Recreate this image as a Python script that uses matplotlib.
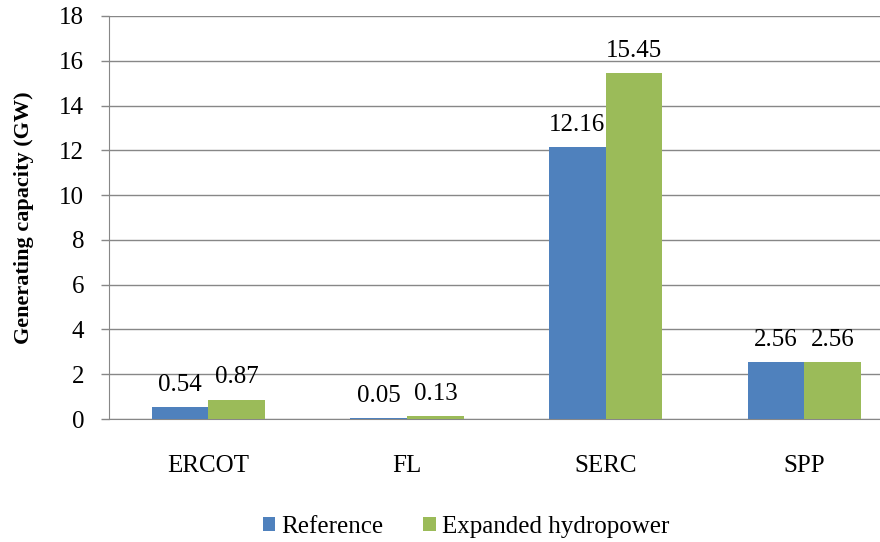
import matplotlib.pyplot as plt
import numpy as np

regions = ['ERCOT', 'FL', 'SERC', 'SPP']
reference = [0.54, 0.05, 12.16, 2.56]
expanded = [0.87, 0.13, 15.45, 2.56]
series_names = ['Reference', 'Expanded hydropower']
yticks = [0, 2, 4, 6, 8, 10, 12, 14, 16, 18]

plt.rcParams['font.family'] = ['Liberation Serif', 'DejaVu Serif']

fig = plt.figure(figsize=(8.8, 5.42), dpi=100)
ax = fig.add_axes([109 / 880, 1 - 419 / 542, 1 - 109 / 880, (419 - 16) / 542])

x = np.arange(len(regions))
w = 0.285
b1 = ax.bar(x - w / 2, reference, w, color='#4F81BD', label=series_names[0], zorder=3)
b2 = ax.bar(x + w / 2, expanded, w, color='#9BBB59', label=series_names[1], zorder=3)

for bars, vals in ((b1, reference), (b2, expanded)):
    for bar, v in zip(bars, vals):
        ax.annotate(f'{v:.2f}', (bar.get_x() + bar.get_width() / 2, bar.get_height()),
                    xytext=(0, 8), textcoords='offset points',
                    ha='center', va='bottom', fontsize=18)

ax.set_ylim(0, 18)
ax.set_yticks(yticks)
ax.set_xlim(-0.5, 3.38)
ax.set_xticks(x)
ax.set_xticklabels(regions)
ax.tick_params(axis='x', length=0, pad=26, labelsize=18)
ax.tick_params(axis='y', length=6, width=1, color='#878787', pad=12, labelsize=18)
ax.yaxis.grid(True, color='#878787', linewidth=1, zorder=0)

for s in ['top', 'right']:
    ax.spines[s].set_visible(False)
ax.spines['left'].set_color('#878787')
ax.spines['bottom'].set_color('#878787')

ax.set_ylabel('Generating capacity (GW)', fontsize=16, fontweight='bold', labelpad=18)

fig.legend(handles=[b1, b2], loc='center', bbox_to_anchor=(466 / 880, 1 - 527 / 542),
           ncol=2, frameon=False, fontsize=18, handlelength=0.5, handleheight=0.5,
           handletextpad=0.25, columnspacing=1.6)

fig.savefig('out.png', dpi=100)
